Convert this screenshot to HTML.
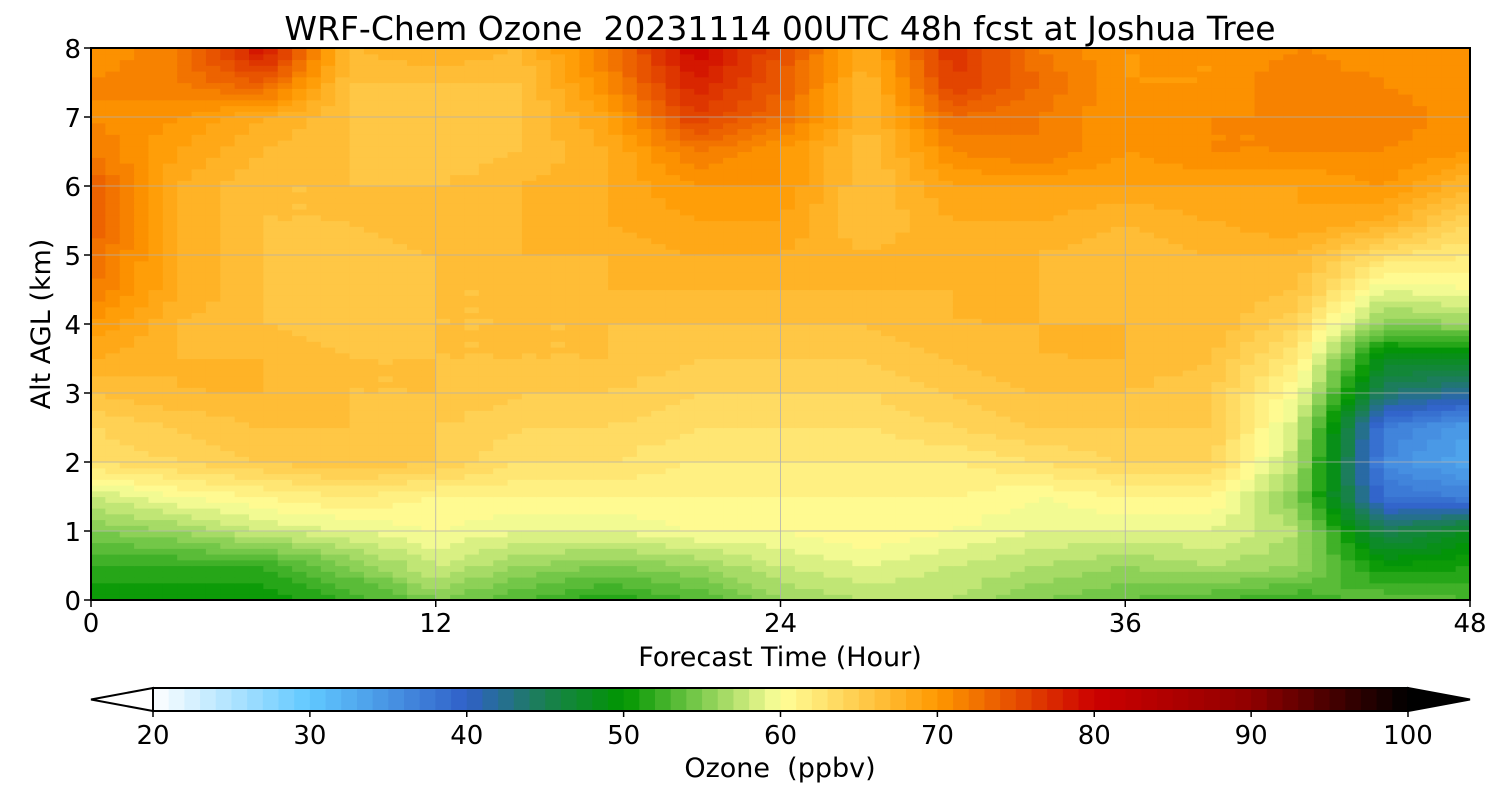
<!DOCTYPE html>
<html><head><meta charset="utf-8"><style>
body{margin:0;background:#fff;font-family:"DejaVu Sans","Liberation Sans",sans-serif}
svg text{font-family:"DejaVu Sans","Liberation Sans",sans-serif;fill:#000;white-space:pre}
</style></head><body>
<svg id="chart" width="1500" height="800" xmlns="http://www.w3.org/2000/svg">
<g id="cells"></g>
<g id="grid"></g>
<rect x="91" y="48" width="1379" height="552" fill="none" stroke="#000" stroke-width="2"/>
<g id="axes"></g>
<text x="780" y="40" font-size="33" text-anchor="middle" xml:space="preserve">WRF-Chem Ozone  20231114 00UTC 48h fcst at Joshua Tree</text>
<text x="780" y="666" font-size="27" text-anchor="middle">Forecast Time (Hour)</text>
<text transform="translate(50,324) rotate(-90)" font-size="27" text-anchor="middle">Alt AGL (km)</text>
<g id="cbar"></g>
<text x="780" y="777" font-size="27" text-anchor="middle" xml:space="preserve">Ozone  (ppbv)</text>
</svg>
<script>
const times=[0,3,6,9,12,15,18,21,24,27,30,33,36,39,42,45,48];
const alts=[0,0.5,1,1.5,2,2.5,3,3.5,4,4.5,5,5.5,6,6.5,7,7.5,8];
const ozone=[
[50,50,50,52,55,53,51,53,56,57,57,55,54,53,52,54,53],
[52,52,52,55,58,56,55,56,58,59,58,57,56,57,56,50,51],
[55,56,58,59,60,59,59,60,60,61,60,59,59,59,57,45,48],
[58,60,61,62,61,61,61,61,61,61,61,60,61,61,55,38,37],
[63,64,65,66,65,63,63,62,62,62,62,63,64,64,57,36,33],
[64,65,66,66,65,64,64,63,63,63,64,65,65,65,58,37,34],
[66,67,67,66,66,65,65,64,64,64,65,66,66,65,60,44,42],
[68,67,67,66,66,66,66,65,65,65,66,67,67,66,62,48,48],
[70,67,66,65,66,66,66,66,66,66,67,67,67,67,64,55,56],
[72,68,66,65,66,66,67,67,67,67,67,67,66,67,66,59,60],
[73,68,66,65,66,67,67,68,68,67,68,67,66,67,67,63,62],
[74,68,66,66,67,67,68,69,69,66,68,68,67,68,69,68,64],
[74,68,66,66,66,67,68,70,70,66,69,69,69,69,69,70,67],
[72,69,67,66,65,66,68,72,70,66,71,72,70,71,71,71,70],
[71,70,68,66,65,66,69,76,73,67,73,72,70,71,71,72,70],
[71,72,74,66,66,66,71,78,74,67,76,73,70,70,72,71,70],
[70,72,79,67,68,67,72,80,75,68,77,72,70,70,71,70,70]];
const xTicks=[0,12,24,36,48];
const yTicks=[0,1,2,3,4,5,6,7,8];
const cbTicks=[20,30,40,50,60,70,80,90,100];
const stops=[[20,[255,255,255]],[30,[96,200,255]],[40,[48,96,200]],[45,[26,128,80]],[50,[0,150,0]],[55,[128,204,80]],[60,[255,255,153]],[70,[255,153,0]],[80,[204,0,0]],[90,[144,0,0]],[100,[0,0,0]]];
const NS="http://www.w3.org/2000/svg";
const X0=91,X1=1470,Y0=600,Y1=48;
const xs=t=>X0+(t-0)/(48-0)*(X1-X0);
const ys=a=>Y0-(a-0)/(8-0)*(Y0-Y1);
function color(v){v=Math.floor(v)+0.5;if(v<=20)return'rgb(255,255,255)';if(v>=100)return'rgb(0,0,0)';
for(let i=0;i<stops.length-1;i++){const[a,ca]=stops[i],[b,cb]=stops[i+1];if(v>=a&&v<=b){const f=(v-a)/(b-a);return'rgb('+ca.map((c,k)=>Math.round(c+(cb[k]-c)*f)).join(',')+')';}}}
function mk(tag,at,p){const e=document.createElementNS(NS,tag);for(const k in at)e.setAttribute(k,at[k]);p.appendChild(e);return e;}
const cells=document.getElementById('cells');const S=6;
for(let j=0;j<alts.length-1;j++)for(let i=0;i<times.length-1;i++)for(let sj=0;sj<S;sj++)for(let si=0;si<S;si++){
const fx=(si+0.5)/S,fy=(sj+0.5)/S;
const v=ozone[j][i]*(1-fx)*(1-fy)+ozone[j][i+1]*fx*(1-fy)+ozone[j+1][i]*(1-fx)*fy+ozone[j+1][i+1]*fx*fy;
const ta=times[i]+(times[i+1]-times[i])*si/S,tb=times[i]+(times[i+1]-times[i])*(si+1)/S;
const aa=alts[j]+(alts[j+1]-alts[j])*sj/S,ab=alts[j]+(alts[j+1]-alts[j])*(sj+1)/S;
const r=mk('rect',{x:xs(ta),y:ys(ab),width:xs(tb)-xs(ta)+0.6,height:ys(aa)-ys(ab)+0.6,fill:color(v)},cells);

}
const grid=document.getElementById('grid'),axes=document.getElementById('axes');
xTicks.forEach(t=>{if(t>0&&t<48)mk('line',{x1:xs(t),x2:xs(t),y1:Y1,y2:Y0,stroke:'#b0b0b0','stroke-width':0.8},grid);
mk('line',{x1:xs(t),x2:xs(t),y1:Y0,y2:Y0+7,stroke:'#000','stroke-width':1.5},axes);
const tx=mk('text',{x:xs(t),y:Y0+32,'font-size':26,'text-anchor':'middle'},axes);tx.textContent=t;

});
yTicks.forEach(a=>{if(a>0&&a<8)mk('line',{x1:X0,x2:X1,y1:ys(a),y2:ys(a),stroke:'#b0b0b0','stroke-width':0.8},grid);
mk('line',{x1:X0-7,x2:X0,y1:ys(a),y2:ys(a),stroke:'#000','stroke-width':1.5},axes);
const tx=mk('text',{x:X0-10,y:ys(a)+10,'font-size':26,'text-anchor':'end'},axes);tx.textContent=a;

});
const cb=document.getElementById('cbar');const C0=153,C1=1408,CY=688,CH=23;const cx=v=>C0+(v-20)/80*(C1-C0);
for(let v=20;v<100;v++){const r=mk('rect',{x:cx(v),y:CY,width:cx(v+1)-cx(v)+0.5,height:CH,fill:color(v)},cb);

}
mk('polygon',{points:`${C0},${CY} 91,${CY+CH/2} ${C0},${CY+CH}`,fill:'#fff',stroke:'#000','stroke-width':2},cb);
mk('polygon',{points:`${C1},${CY} 1470,${CY+CH/2} ${C1},${CY+CH}`,fill:'#000',stroke:'#000','stroke-width':2},cb);
mk('rect',{x:C0,y:CY,width:C1-C0,height:CH,fill:'none',stroke:'#000','stroke-width':2},cb);
cbTicks.forEach(v=>{mk('line',{x1:cx(v),x2:cx(v),y1:CY+CH,y2:CY+CH+6,stroke:'#000','stroke-width':1.5},cb);
const tx=mk('text',{x:cx(v),y:CY+CH+33,'font-size':26,'text-anchor':'middle'},cb);tx.textContent=v;

});
</script>
</body></html>
